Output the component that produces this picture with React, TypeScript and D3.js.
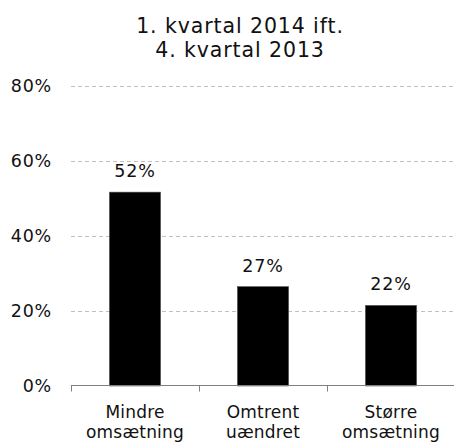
import React, { useEffect, useRef } from 'react';
import * as d3 from 'd3';

const titleLines = ['1. kvartal 2014 ift.', '4. kvartal 2013'];
const categories = ['Mindre omsætning', 'Omtrent uændret', 'Større omsætning'];
const categoryLines = [['Mindre', 'omsætning'], ['Omtrent', 'uændret'], ['Større', 'omsætning']];
const values = [0.517, 0.265, 0.215];
const valueLabels = ['52%', '27%', '22%'];
const yTicks = [0, 0.2, 0.4, 0.6, 0.8];

export default function App() {
  const svgRef = useRef<SVGSVGElement>(null);

  const width = 454;
  const height = 443;
  const margin = { top: 86, right: -1, bottom: 57, left: 71 };
  const font = "'DejaVu Sans', Verdana, sans-serif";

  useEffect(() => {
    const svg = d3.select(svgRef.current);
    svg.selectAll('*').remove();
    svg.attr('width', width).attr('height', height);

    const xScale = d3
      .scaleBand()
      .domain(categories)
      .range([margin.left, width - margin.right])
      .padding(0);

    const yScale = d3
      .scaleLinear()
      .domain([0, 0.8])
      .range([height - margin.bottom, margin.top]);

    // title
    svg
      .append('text')
      .attr('text-anchor', 'middle')
      .attr('font-family', font)
      .attr('font-size', '20.5px')
      .attr('letter-spacing', '0.9px')
      .attr('fill', '#111')
      .selectAll('tspan')
      .data(titleLines)
      .enter()
      .append('tspan')
      .attr('x', 240)
      .attr('y', (d, i) => 33 + i * 23.5)
      .text((d) => d);

    // gridlines
    svg
      .append('g')
      .selectAll('line')
      .data(yTicks.filter((d) => d > 0))
      .enter()
      .append('line')
      .attr('x1', margin.left)
      .attr('x2', width)
      .attr('y1', (d) => yScale(d) + 0.5)
      .attr('y2', (d) => yScale(d) + 0.5)
      .attr('stroke', '#c0c0c0')
      .attr('stroke-dasharray', '4,3');

    // y tick labels
    svg
      .append('g')
      .selectAll('text')
      .data(yTicks)
      .enter()
      .append('text')
      .attr('x', 52)
      .attr('y', (d) => yScale(d) + 6)
      .attr('text-anchor', 'end')
      .attr('font-family', font)
      .attr('font-size', '17.5px')
      .attr('letter-spacing', '0.8px')
      .attr('fill', '#111')
      .text((d) => d3.format('.0%')(d));

    // bars
    const barWidth = xScale.bandwidth() * 0.4;
    svg
      .append('g')
      .selectAll('rect')
      .data(values)
      .enter()
      .append('rect')
      .attr('x', (d, i) => xScale(categories[i])! + xScale.bandwidth() / 2 - barWidth / 2)
      .attr('y', (d) => yScale(d))
      .attr('width', barWidth)
      .attr('height', (d) => yScale(0) - yScale(d))
      .attr('fill', '#000')
      .attr('stroke', '#555')
      .attr('stroke-width', 0.6);

    // value labels
    svg
      .append('g')
      .selectAll('text')
      .data(values)
      .enter()
      .append('text')
      .attr('x', (d, i) => xScale(categories[i])! + xScale.bandwidth() / 2)
      .attr('y', (d) => yScale(d) - 15)
      .attr('text-anchor', 'middle')
      .attr('font-family', font)
      .attr('font-size', '17.5px')
      .attr('letter-spacing', '0.8px')
      .attr('fill', '#111')
      .text((d, i) => valueLabels[i]);

    // x axis
    const y0 = Math.round(yScale(0)) - 0.5;
    const axis = svg.append('g');
    axis
      .append('line')
      .attr('x1', margin.left)
      .attr('x2', width)
      .attr('y1', y0)
      .attr('y2', y0)
      .attr('stroke', '#808080');
    axis
      .selectAll('line.tick')
      .data([...categories.map((c) => xScale(c)!), width - margin.right])
      .enter()
      .append('line')
      .attr('class', 'tick')
      .attr('x1', (d) => Math.round(d) + 0.5)
      .attr('x2', (d) => Math.round(d) + 0.5)
      .attr('y1', y0)
      .attr('y2', y0 + 6)
      .attr('stroke', '#808080');

    // category labels
    const catText = svg
      .append('g')
      .selectAll('text')
      .data(categories)
      .enter()
      .append('text')
      .attr('text-anchor', 'middle')
      .attr('font-family', font)
      .attr('font-size', '17px')
      .attr('letter-spacing', '0.2px')
      .attr('fill', '#111');
    catText
      .selectAll('tspan')
      .data((d, i) => categoryLines[i].map((t) => ({ t, c: d })))
      .enter()
      .append('tspan')
      .attr('x', (d) => xScale(d.c)! + xScale.bandwidth() / 2)
      .attr('y', (d, j) => 418 + j * 20)
      .text((d) => d.t);
  }, []);

  return (
    <svg
      ref={svgRef}
      style={{ position: 'absolute', left: 0, top: 0, display: 'block', background: '#fff' }}
    ></svg>
  );
}
